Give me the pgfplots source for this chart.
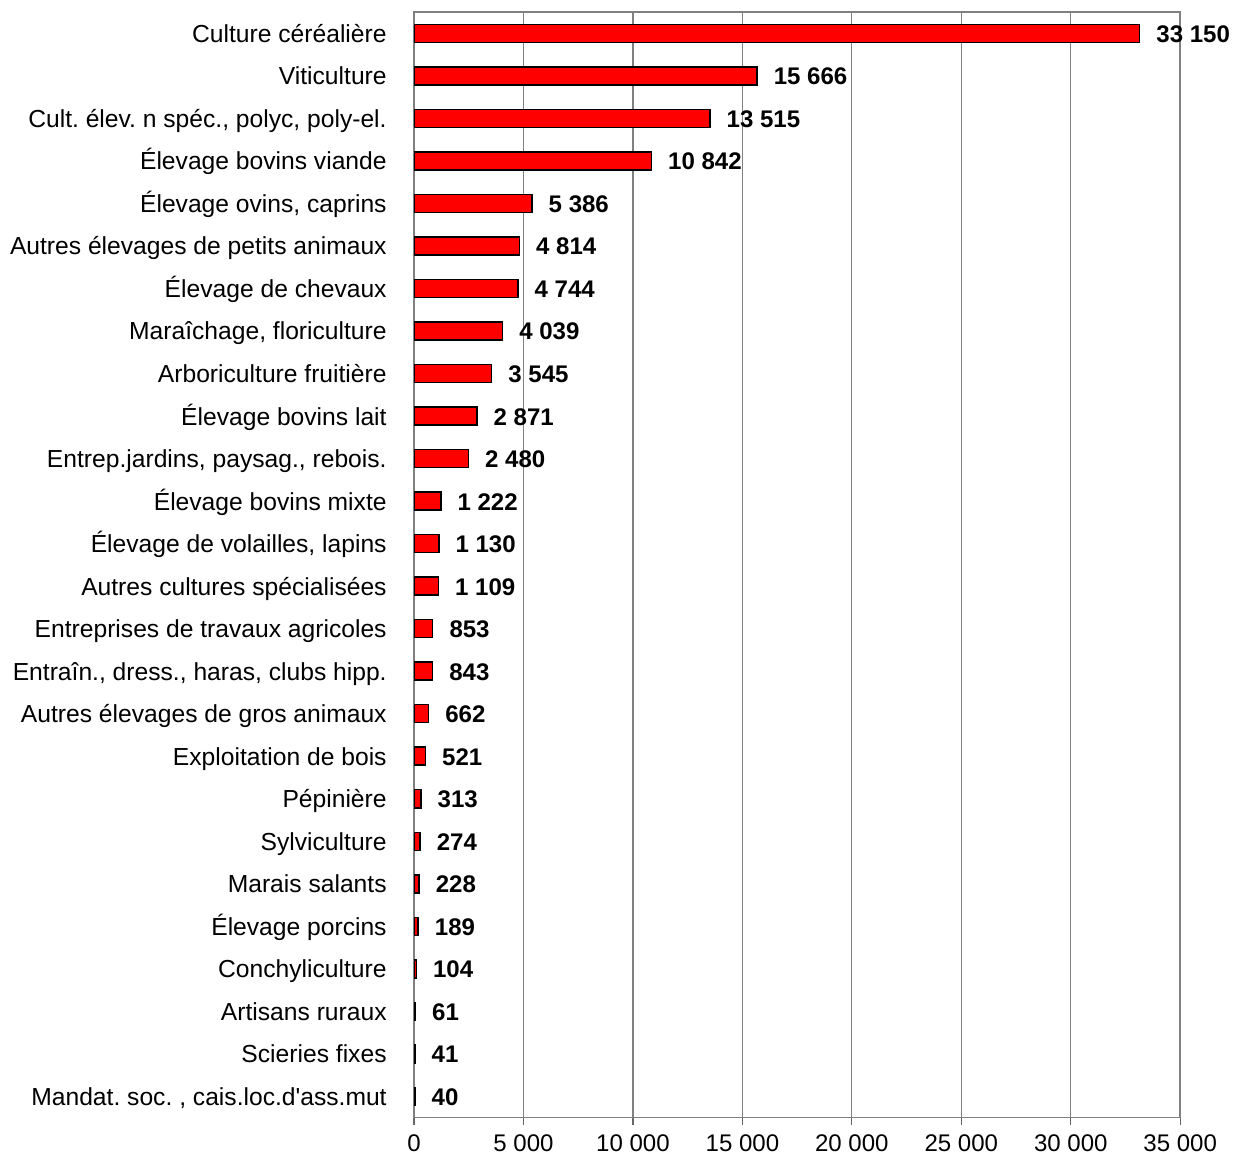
\documentclass[border=0pt]{standalone}
\usepackage{pgfplots}
\pgfplotsset{compat=1.18}
\usepackage{fontspec}
\setmainfont{Liberation Sans}[Ligatures=TeXOff]

\definecolor{barred}{RGB}{255,0,0}
\definecolor{gridgray}{RGB}{128,128,128}

\begin{document}
\frenchspacing
\fontsize{12.3}{14}\selectfont
\begin{tikzpicture}
\begin{axis}[
    xbar,
    scale only axis,
    width=382.5pt,
    height=552pt,
    xmin=0, xmax=35000,
    ymin=-0.5, ymax=25.5,
    y dir=reverse,
    bar width=9pt,
    xtick={0,5000,...,35000},
    ytick={0,...,25},
    yticklabels={
        Culture céréalière,
        Viticulture,
        {Cult. élev. n spéc., polyc, poly-el.},
        Élevage bovins viande,
        {Élevage ovins, caprins},
        Autres élevages de petits animaux,
        Élevage de chevaux,
        {Maraîchage, floriculture},
        Arboriculture fruitière,
        Élevage bovins lait,
        {Entrep.jardins, paysag., rebois.},
        Élevage bovins mixte,
        {Élevage de volailles, lapins},
        Autres cultures spécialisées,
        Entreprises de travaux agricoles,
        {Entraîn., dress., haras, clubs hipp.},
        Autres élevages de gros animaux,
        Exploitation de bois,
        Pépinière,
        Sylviculture,
        Marais salants,
        Élevage porcins,
        Conchyliculture,
        Artisans ruraux,
        Scieries fixes,
        {Mandat. soc. , cais.loc.d'ass.mut}
    },
    /pgf/number format/assume math mode=true,
    /pgf/number format/1000 sep={\ },
    /pgf/number format/fixed,
    /pgf/number format/precision=0,
    scaled x ticks=false,
    xmajorgrids,
    major grid style={gridgray, line width=0.6pt},
    axis line style={gridgray, line width=0.8pt},
    x axis line style={black!60},
    tick style={black!60, line width=0.6pt},
    xtick pos=bottom,
    xtick align=outside,
    major tick length=3.5pt,
    ytick style={draw=none},
    xticklabel style={font=\fontsize{12}{14}\selectfont, inner sep=0pt, yshift=-5pt},
    yticklabel style={font=\fontsize{12.3}{14}\selectfont, inner sep=0pt,
        text height=9pt, text depth=0pt, xshift=-10pt},
    nodes near coords,
    nodes near coords style={font=\fontsize{12}{14}\selectfont\bfseries,
        anchor=west, inner sep=0pt, text height=9pt, text depth=0pt, xshift=8pt},
]
\addplot[draw=black, line width=0.75pt, fill=barred] coordinates {
    (33150,0)
    (15666,1)
    (13515,2)
    (10842,3)
    (5386,4)
    (4814,5)
    (4744,6)
    (4039,7)
    (3545,8)
    (2871,9)
    (2480,10)
    (1222,11)
    (1130,12)
    (1109,13)
    (853,14)
    (843,15)
    (662,16)
    (521,17)
    (313,18)
    (274,19)
    (228,20)
    (189,21)
    (104,22)
    (61,23)
    (41,24)
    (40,25)
};
\end{axis}
\path ([yshift=6pt]current axis.north);
\path ([xshift=-5pt]current bounding box.west) ([xshift=1.5pt]current bounding box.east)
      ([yshift=-1.5pt]current bounding box.south);
\end{tikzpicture}
\end{document}
